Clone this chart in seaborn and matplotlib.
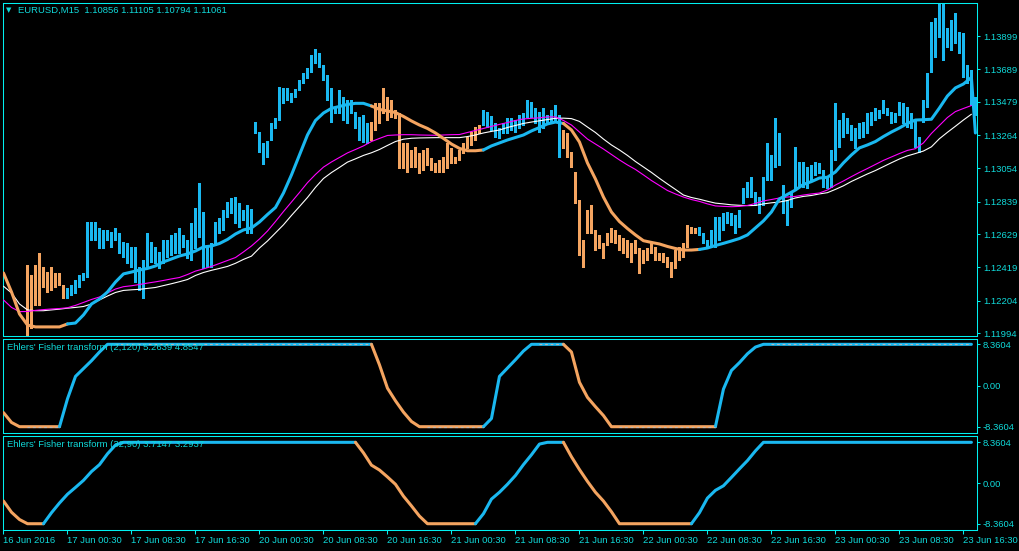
import numpy as np
import matplotlib
matplotlib.use("Agg")
import matplotlib.pyplot as plt
import seaborn as sns

# ---------------- data (prices in 1e-5 units above 1.0, e.g. 13490 -> 1.13490) -------------
NA = np.nan
bar_high = [NA, NA, NA, NA, NA, NA,
    12432, 12368, 12432, 12509, 12419, 12387, 12419, 12381, 12381, 12304,
    12285, 12304, 12336, 12368, 12381, 12708, 12708, 12708, 12670, 12657,
    12657, 12644, 12670, 12638, 12580, 12573, 12548, 12548, 12419, 12464,
    12638, 12580, 12548, 12516, 12593, 12593, 12625, 12638, 12670, 12625,
    12593, 12702, 12798, 12958, 12772, 12561, 12573, 12708, 12734, 12785,
    12836, 12862, 12868, 12830, 12785, 12817, 12791, 13349, 13285, 13215,
    13228, 13343, 13375, 13574, 13568, 13568, 13535, 13561, 13619, 13664,
    13696, 13779, 13818, 13792, 13715, 13651, 13568, 13446, 13555, 13510,
    13491, 13491, 13414, 13382, 13394, 13343, 13349, 13471, 13471, 13568,
    13510, 13491, 13426, 13407, 13215, 13215, 13170, 13189, 13151, 13170,
    13183, 13119, 13087, 13106, 13125, 13215, 13183, 13125, 13170, 13215,
    13253, 13285, 13317, 13330, 13426, 13414, 13390, 13343, 13311, 13343,
    13375, 13375, 13362, 13394, 13407, 13491, 13478, 13439, 13414, 13439,
    13394, 13426, 13459, 13394, 13298, 13279, 13157, 13029, 12849, 12593,
    12785, 12817, 12657, 12625, 12573, 12638, 12670, 12657, 12625, 12605,
    12593, 12573, 12593, 12541, 12528, 12541, 12573, 12548, 12509, 12509,
    12484, 12452, 12528, 12548, 12573, 12689, 12676, 12670, 12676, 12638,
    12593, 12657, 12740, 12740, 12766, 12772, 12766, 12753, 12785, 12926,
    12965, 12997, 12901, 12868, 12997, 13215, 13138, 13375, 13279, 12945,
    12849, 12894, 13189, 13093, 13093, 13061, 13074, 13093, 13087, 13042,
    12997, 13170, 13471, 13362, 13407, 13375, 13330, 13311, 13343, 13349,
    13407, 13414, 13439, 13426, 13491, 13439, 13414, 13407, 13478, 13471,
    13446, 13407, 13362, 13253, 13491, 13664, 13991, 14017, 14113, 14113,
    13952, 14004, 14049, 13927, 13920, 13715, 13683, 13510]
bar_low = [NA, NA, NA, NA, NA, NA,
    11983, 12028, 12176, 12176, 12291, 12259, 12272, 12291, 12304, 12221,
    12221, 12240, 12253, 12291, 12336, 12355, 12593, 12593, 12541, 12541,
    12593, 12548, 12593, 12509, 12484, 12445, 12419, 12323, 12272, 12221,
    12419, 12452, 12445, 12413, 12445, 12484, 12496, 12509, 12509, 12548,
    12477, 12464, 12541, 12612, 12413, 12419, 12419, 12561, 12638, 12657,
    12740, 12766, 12702, 12676, 12721, 12638, 12638, 13279, 13157, 13080,
    13125, 13234, 13311, 13362, 13471, 13491, 13478, 13510, 13555, 13600,
    13632, 13670, 13728, 13702, 13619, 13491, 13349, 13407, 13407, 13362,
    13343, 13407, 13311, 13234, 13221, 13215, 13234, 13298, 13343, 13407,
    13362, 13382, 13375, 13054, 13054, 13029, 13061, 13061, 13022, 13042,
    13074, 13042, 13029, 13029, 13029, 13054, 13087, 13087, 13106, 13151,
    13183, 13202, 13234, 13279, 13330, 13317, 13300, 13253, 13247, 13279,
    13279, 13298, 13285, 13311, 13330, 13382, 13382, 13343, 13285, 13311,
    13343, 13343, 13362, 13125, 13183, 13125, 13061, 12830, 12496, 12419,
    12638, 12638, 12528, 12541, 12477, 12561, 12580, 12573, 12528, 12509,
    12484, 12452, 12509, 12381, 12445, 12464, 12509, 12464, 12464, 12452,
    12419, 12355, 12413, 12464, 12484, 12548, 12638, 12638, 12625, 12573,
    12541, 12548, 12548, 12593, 12657, 12702, 12689, 12638, 12676, 12830,
    12868, 12868, 12817, 12766, 12817, 12977, 12977, 13061, 13074, 12766,
    12689, 12804, 12913, 12933, 12933, 12926, 12977, 13010, 13022, 12933,
    12926, 12933, 13106, 13189, 13253, 13279, 13234, 13183, 13247, 13253,
    13279, 13330, 13362, 13375, 13407, 13394, 13343, 13349, 13394, 13343,
    13317, 13311, 13189, 13157, 13349, 13446, 13670, 13766, 13895, 13747,
    13831, 13811, 13856, 13792, 13638, 13600, 13459, 13394]

# hourly samples of the indicator lines (every second 30-min bar)
step_line = [12381, 12259, 12118, 12047, 12035, 12035, 12035, 12035, 12054, 12060,
    12112, 12182, 12214, 12259, 12323, 12375, 12387, 12400, 12410, 12426,
    12452, 12471, 12490, 12503, 12522, 12548, 12554, 12570, 12596, 12631,
    12657, 12670, 12708, 12756, 12801, 12894, 13010, 13138, 13266, 13359,
    13407, 13437, 13449, 13462, 13469, 13469, 13452, 13430, 13420, 13410,
    13385, 13356, 13330, 13308, 13279, 13244, 13208, 13180, 13165, 13165,
    13170, 13196, 13215, 13234, 13250, 13266, 13292, 13314, 13337, 13349,
    13340, 13298, 13221, 13087, 12984, 12868, 12772, 12711, 12666, 12625,
    12588, 12577, 12567, 12551, 12538, 12528, 12528, 12532, 12541, 12557,
    12571, 12586, 12602, 12625, 12670, 12715, 12772, 12856, 12885, 12913,
    12949, 12967, 12990, 12995, 13029, 13087, 13138, 13183, 13202, 13224,
    13256, 13285, 13311, 13340, 13362, 13364, 13367, 13439, 13516, 13568,
    13593, 13635, 13279]
ma_magenta = [12208, 12160, 12133, 12134, 12141, 12146, 12150, 12153, 12158, 12173,
    12192, 12211, 12227, 12253, 12278, 12293, 12299, 12307, 12316, 12324,
    12333, 12343, 12352, 12371, 12393, 12407, 12423, 12442, 12461, 12480,
    12516, 12554, 12599, 12650, 12711, 12775, 12836, 12897, 12960, 13013,
    13060, 13093, 13122, 13151, 13173, 13196, 13224, 13244, 13263, 13266,
    13268, 13268, 13266, 13265, 13264, 13266, 13268, 13269, 13282, 13295,
    13308, 13321, 13334, 13346, 13359, 13369, 13373, 13376, 13382, 13382,
    13359, 13330, 13285, 13240, 13208, 13176, 13141, 13106, 13074, 13045,
    13010, 12974, 12942, 12910, 12888, 12868, 12852, 12840, 12824, 12811,
    12808, 12806, 12808, 12814, 12827, 12843, 12852, 12862, 12868, 12872,
    12881, 12888, 12894, 12913, 12945, 12971, 12999, 13026, 13051, 13077,
    13103, 13125, 13147, 13167, 13178, 13215, 13276, 13327, 13378, 13416,
    13436, 13455]
ma_white = [12296, 12253, 12182, 12144, 12139, 12139, 12144, 12149, 12155, 12160,
    12166, 12182, 12208, 12233, 12256, 12269, 12273, 12276, 12282, 12288,
    12300, 12312, 12325, 12339, 12365, 12384, 12398, 12410, 12423, 12443,
    12468, 12489, 12541, 12586, 12638, 12690, 12750, 12807, 12865, 12930,
    12987, 13025, 13058, 13092, 13113, 13135, 13152, 13173, 13199, 13224,
    13239, 13245, 13247, 13248, 13249, 13249, 13249, 13249, 13256, 13266,
    13279, 13289, 13298, 13314, 13327, 13340, 13349, 13357, 13365, 13373,
    13374, 13371, 13353, 13317, 13282, 13240, 13202, 13170, 13135, 13096,
    13061, 13026, 12988, 12952, 12917, 12881, 12865, 12854, 12841, 12829,
    12824, 12818, 12815, 12813, 12814, 12824, 12831, 12836, 12846, 12862,
    12872, 12878, 12888, 12896, 12917, 12940, 12968, 12992, 13016, 13038,
    13063, 13088, 13112, 13132, 13147, 13163, 13190, 13242, 13283, 13322,
    13362, 13399]

# trend switches (30-min bar index), first segment falling
trend_switch = [16, 92, 120, 140, 174]

fisher_fast = [-5.5, -7.5, -8.36, -8.36, -8.36, -8.36, -8.36, -8.36, -2.7, 1.85,
    3.44, 5.03, 6.8, 8.36, 8.36, 8.36, 8.36, 8.36, 8.36, 8.36,
    8.36, 8.36, 8.36, 8.36, 8.36, 8.36, 8.36, 8.36, 8.36, 8.36,
    8.36, 8.36, 8.36, 8.36, 8.36, 8.36, 8.36, 8.36, 8.36, 8.36,
    8.36, 8.36, 8.36, 8.36, 8.36, 8.36, 8.36, 4.2, -0.54, -3.1,
    -5.4, -7.3, -8.36, -8.36, -8.36, -8.36, -8.36, -8.36, -8.36, -8.36,
    -8.36, -6.7, 1.85, 3.54, 5.23, 7.0, 8.36, 8.36, 8.36, 8.36,
    8.36, 6.8, 0.66, -2.4, -4.3, -6.1, -8.36, -8.36, -8.36, -8.36,
    -8.36, -8.36, -8.36, -8.36, -8.36, -8.36, -8.36, -8.36, -8.36, -8.36,
    -0.74, 3.05, 4.64, 6.43, 7.8, 8.36, 8.36, 8.36, 8.36, 8.36,
    8.36, 8.36, 8.36, 8.36, 8.36, 8.36, 8.36, 8.36, 8.36, 8.36,
    8.36, 8.36, 8.36, 8.36, 8.36, 8.36, 8.36, 8.36, 8.36, 8.36,
    8.36, 8.36]
fisher_slow = [-3.7, -6.0, -7.5, -8.36, -8.36, -8.36, -6.1, -4.1, -2.3, -0.9,
    0.55, 2.36, 3.78, 6.0, 7.8, 8.36, 8.36, 8.36, 8.36, 8.36,
    8.36, 8.36, 8.36, 8.36, 8.36, 8.36, 8.36, 8.36, 8.36, 8.36,
    8.36, 8.36, 8.36, 8.36, 8.36, 8.36, 8.36, 8.36, 8.36, 8.36,
    8.36, 8.36, 8.36, 8.36, 8.36, 6.2, 3.67, 2.67, 1.25, -0.26,
    -2.7, -4.7, -6.8, -8.36, -8.36, -8.36, -8.36, -8.36, -8.36, -8.36,
    -6.3, -3.3, -1.9, -0.26, 1.55, 3.78, 5.8, 8.0, 8.36, 8.36,
    8.36, 5.4, 2.77, 0.34, -1.9, -3.7, -5.9, -8.36, -8.36, -8.36,
    -8.36, -8.36, -8.36, -8.36, -8.36, -8.36, -8.36, -6.1, -3.1, -1.5,
    -0.57, 1.15, 2.9, 4.6, 6.6, 8.36, 8.36, 8.36, 8.36, 8.36,
    8.36, 8.36, 8.36, 8.36, 8.36, 8.36, 8.36, 8.36, 8.36, 8.36,
    8.36, 8.36, 8.36, 8.36, 8.36, 8.36, 8.36, 8.36, 8.36, 8.36,
    8.36, 8.36]

price_ticks = [1.11994, 1.12204, 1.12419, 1.12629, 1.12839, 1.13054,
               1.13264, 1.13479, 1.13689, 1.13899]
fisher_ticks = [-8.3604, 0.0, 8.3604]
fisher_labels = ["-8.3604", "0.00", "8.3604"]
time_labels = ["16 Jun 2016", "17 Jun 00:30", "17 Jun 08:30", "17 Jun 16:30",
               "20 Jun 00:30", "20 Jun 08:30", "20 Jun 16:30", "21 Jun 00:30",
               "21 Jun 08:30", "21 Jun 16:30", "22 Jun 00:30", "22 Jun 08:30",
               "22 Jun 16:30", "23 Jun 00:30", "23 Jun 08:30", "23 Jun 16:30"]
title_text = "EURUSD,M15  1.10856 1.11105 1.10794 1.11061"
fisher_fast_title = "Ehlers' Fisher transform (2,120) 5.2639 4.8547"
fisher_slow_title = "Ehlers' Fisher transform (32,90) 3.7147 3.2937"

# ---------------- styling ----------------
BLUE = "#1AB8F0"
ORANGE = "#F4A460"
MAGENTA = "#FF00FF"
FRAME = "#00F0F0"
TXT = "#10DADA"
W, H = 1020, 551

sns.set_theme(style="dark")
plt.rcParams["font.family"] = ["Liberation Sans", "DejaVu Sans"]
plt.rcParams["axes.facecolor"] = "black"
plt.rcParams["figure.facecolor"] = "black"

fig = plt.figure(figsize=(W / 100, H / 100), dpi=100, facecolor="black")


def rect(top, bottom, left=2.7, right=977.0):
    return [left / W, 1 - bottom / H, (right - left) / W, (bottom - top) / H]


ax = fig.add_axes(rect(2.7, 336.0))
ax1 = fig.add_axes(rect(338.7, 433.0))
ax2 = fig.add_axes(rect(435.7, 530.0))

XMIN, XMAX = -0.2, 243.4

for a in (ax, ax1, ax2):
    a.set_facecolor("black")
    a.grid(False)
    for s in a.spines.values():
        s.set_visible(True)
        s.set_color(FRAME)
        s.set_linewidth(0.75)
    a.set_xlim(XMIN, XMAX)
    a.yaxis.tick_right()
    a.tick_params(axis="y", which="both", left=False, right=True, labelleft=False,
                  labelright=True, length=2.3, width=0.75, pad=2.0, colors=FRAME,
                  labelcolor=TXT, labelsize=6.8)
    a.tick_params(axis="x", bottom=False, labelbottom=False)

# ---------------- main panel ----------------
hi = 1 + np.array(bar_high, dtype=float) / 1e5
lo = 1 + np.array(bar_low, dtype=float) / 1e5
bars_x = np.arange(len(hi))
state = np.zeros(len(hi), dtype=int)
for sw in trend_switch:
    state[bars_x >= sw] += 1
up = (state % 2) == 1
ax.vlines(bars_x[up], lo[up], hi[up], colors=BLUE, linewidth=0.9, zorder=2,
          antialiased=False)
ax.vlines(bars_x[~up], lo[~up], hi[~up], colors=ORANGE, linewidth=0.9, zorder=2,
          antialiased=False)

hx = np.arange(0, 243, 2)
sns.lineplot(x=hx, y=1 + np.array(ma_white) / 1e5, color="white", linewidth=0.8,
             ax=ax, zorder=3, errorbar=None)
sns.lineplot(x=hx, y=1 + np.array(ma_magenta) / 1e5, color=MAGENTA, linewidth=0.8,
             ax=ax, zorder=3, errorbar=None)

sx = np.append(hx, 243)
sy = 1 + np.array(step_line) / 1e5
bounds = [0] + trend_switch + [10 ** 6]
for j in range(len(bounds) - 1):
    a0, a1 = bounds[j], bounds[j + 1]
    idx = np.where((sx >= a0) & (sx < a1))[0]
    if len(idx) == 0:
        continue
    if idx[-1] + 1 < len(sx):
        idx = np.append(idx, idx[-1] + 1)
    sns.lineplot(x=sx[idx], y=sy[idx], color=(BLUE if j % 2 else ORANGE),
                 linewidth=2.2, ax=ax, zorder=4, errorbar=None)

ax.set_ylim(1.119767, 1.141145)
ax.set_yticks(price_ticks, [f"{v:.5f}" for v in price_ticks])
ax.set_xlabel("")
ax.set_ylabel("")

fig.text(6 / W, 1 - 10.5 / H, "\u25BC", color=TXT, fontsize=5,
         family=["DejaVu Sans"], va="center", ha="left")
fig.text(18.3 / W, 1 - 10.5 / H, title_text, color=TXT, fontsize=6.8,
         va="center", ha="left")


# ---------------- fisher panels ----------------
def draw_fisher(a, vals, show_signal):
    v = np.array(vals, dtype=float)
    rising = np.zeros(len(v), dtype=bool)
    cur = False
    for k in range(len(v)):
        if k > 0 and v[k] > v[k - 1]:
            cur = True
        elif k > 0 and v[k] < v[k - 1]:
            cur = False
        rising[k] = cur
    starts = [0] + [k for k in range(1, len(v)) if rising[k] != rising[k - 1]] + [len(v)]
    for j in range(len(starts) - 1):
        s0, s1 = starts[j], starts[j + 1]
        seg = np.arange(max(s0 - 1, 0), s1)
        sns.lineplot(x=hx[seg], y=v[seg], color=(BLUE if rising[s0] else ORANGE),
                     linewidth=2.2, ax=a, zorder=3, errorbar=None)
    if show_signal:
        # signal line (one bar behind) only separates visibly where the line is flat
        prev = np.r_[v[0], v[:-1]]
        sig = np.where(np.isclose(prev, v), prev, np.nan)
        a.plot(hx, sig, color="#B8B8B8", linewidth=0.8, zorder=4,
               linestyle=(0, (2.5, 2.5)))
    a.set_xlabel("")
    a.set_ylabel("")


draw_fisher(ax1, fisher_fast, True)
draw_fisher(ax2, fisher_slow, False)
ax1.set_ylim(-9.64, 9.50)
ax2.set_ylim(-9.65, 9.72)
for a in (ax1, ax2):
    a.set_yticks(fisher_ticks, fisher_labels)

fig.text(7 / W, 1 - 347.3 / H, fisher_fast_title, color=TXT, fontsize=6.8,
         va="center", ha="left")
fig.text(7 / W, 1 - 444.7 / H, fisher_slow_title, color=TXT, fontsize=6.8,
         va="center", ha="left")

tick_pos = np.arange(0, 244, 16)
ax2.set_xticks(tick_pos, time_labels)
ax2.tick_params(axis="x", bottom=True, labelbottom=True, length=3.0, width=0.75,
                colors=FRAME, labelcolor=TXT, labelsize=6.8, pad=1.5)
for lab in ax2.get_xticklabels():
    lab.set_horizontalalignment("left")
ax2.set_xlim(XMIN, XMAX)

fig.savefig("out.png", dpi=100, facecolor="black")
